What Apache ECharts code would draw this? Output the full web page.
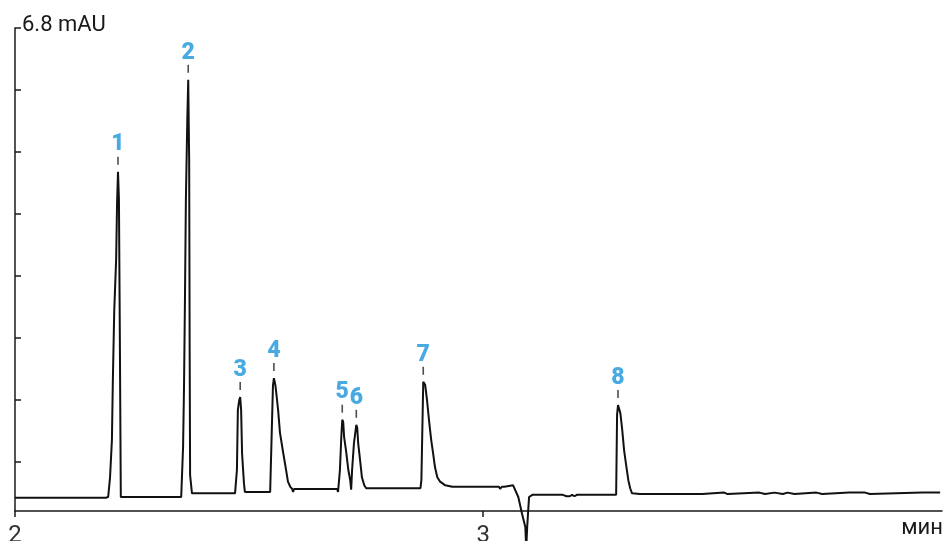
<!DOCTYPE html>
<html>
<head>
<meta charset="utf-8">
<script src="https://cdn.jsdelivr.net/npm/echarts@6/dist/echarts.min.js"></script>
<style>
html,body{margin:0;padding:0;background:#fff;}
#chart{width:947px;height:541px;}
</style>
</head>
<body>
<div id="chart"></div>
<script>
// Retention time (min), detector signal (mAU)
var trace = [
  [2.000,0.36],[2.026,0.36],[2.028,0.38],[2.030,0.36],[2.069,0.36],[2.071,0.38],[2.073,0.36],[2.194,0.36],
  [2.199,0.37],[2.203,0.64],[2.207,1.15],[2.209,1.97],[2.212,2.93],[2.216,3.62],[2.218,4.40],[2.220,4.83],
  [2.222,4.45],[2.224,2.50],[2.226,0.37],[2.355,0.37],
  [2.357,0.38],[2.359,1.06],[2.361,1.88],[2.363,3.07],[2.365,4.44],[2.368,5.54],[2.370,6.09],[2.372,5.00],
  [2.373,2.50],[2.374,0.67],[2.378,0.42],[2.470,0.42],
  [2.474,0.74],[2.476,1.56],[2.479,1.70],[2.481,1.74],[2.483,1.56],[2.485,0.97],[2.489,0.56],[2.491,0.44],
  [2.545,0.44],[2.551,1.90],[2.553,2.00],[2.556,1.91],[2.558,1.80],[2.562,1.56],[2.566,1.25],[2.573,0.97],
  [2.579,0.74],[2.583,0.58],[2.588,0.51],[2.592,0.48],[2.594,0.44],[2.596,0.48],
  [2.688,0.48],[2.690,0.44],[2.694,0.74],[2.697,1.20],[2.699,1.43],[2.701,1.40],[2.703,1.19],[2.707,1.01],
  [2.712,0.74],[2.716,0.60],[2.718,0.47],
  [2.720,0.74],[2.724,1.11],[2.729,1.36],[2.731,1.32],[2.733,1.11],[2.737,0.88],[2.741,0.64],[2.746,0.53],
  [2.750,0.49],[2.853,0.49],[2.855,0.51],[2.857,0.49],[2.866,0.49],
  [2.868,0.60],[2.872,1.95],[2.874,1.93],[2.876,1.91],[2.880,1.70],[2.885,1.38],[2.889,1.15],[2.893,0.97],
  [2.897,0.78],[2.902,0.64],[2.908,0.58],[2.919,0.53],[2.934,0.51],
  [3.034,0.51],[3.036,0.48],[3.040,0.51],[3.045,0.51],[3.048,0.53],[3.064,0.53],[3.068,0.52],
  [3.075,0.37],[3.083,0.14],[3.090,-0.04],[3.092,-0.33],[3.094,-0.04],[3.098,0.37],[3.105,0.40],
  [3.170,0.40],[3.172,0.38],[3.178,0.38],[3.180,0.40],[3.185,0.38],[3.190,0.40],[3.195,0.38],[3.200,0.40],
  [3.203,0.38],[3.207,0.40],[3.284,0.40],
  [3.286,1.50],[3.288,1.63],[3.293,1.52],[3.297,1.29],[3.301,1.01],[3.306,0.78],[3.310,0.60],[3.314,0.49],
  [3.318,0.42],[3.335,0.41],[3.468,0.41],[3.470,0.43],[3.515,0.43],[3.517,0.41],[3.522,0.41],[3.524,0.43],
  [3.590,0.43],[3.592,0.41],[3.602,0.41],[3.604,0.43],[3.622,0.43],[3.625,0.41],[3.640,0.41],[3.643,0.43],
  [3.650,0.43],[3.652,0.41],[3.665,0.41],[3.667,0.43],[3.712,0.43],[3.714,0.41],[3.724,0.41],[3.726,0.43],
  [3.782,0.43],[3.784,0.41],[3.786,0.43],[3.816,0.43],[3.818,0.41],[3.826,0.41],[3.828,0.43],
  [3.938,0.43],[3.940,0.41],[3.942,0.43],[3.976,0.43]
];

var peakNames   = ['1','2','3','4','5','6','7','8'];
var peakTimes   = [2.220, 2.370, 2.481, 2.553, 2.699, 2.729, 2.872, 3.288];
var peakHeights = [4.83, 6.09, 1.74, 2.00, 1.43, 1.36, 1.95, 1.63];

var xTicks = [2, 3];
var yTicks = [0.85, 1.70, 2.55, 3.40, 4.25, 5.10, 5.95, 6.80];
var yTopLabel = '6.8 mAU';
var xUnit = 'мин';

var peakData = peakTimes.map(function (t, i) {
  return { value: [t, peakHeights[i]], name: peakNames[i] };
});

var chart = echarts.init(document.getElementById('chart'), null, { renderer: 'canvas' });
chart.setOption({
  animation: false,
  grid: { left: 15, right: 5, top: 28, bottom: 30, containLabel: false, outerBoundsMode: 'none' },
  xAxis: {
    type: 'value', min: 2, max: 3.98, interval: 1,
    axisLine: { show: true, lineStyle: { color: '#1a1a1a', width: 1.5 } },
    axisTick: { show: true, length: 6, lineStyle: { color: '#1a1a1a', width: 1.5 } },
    axisLabel: {
      color: '#333', fontSize: 24, fontFamily: 'Roboto', margin: 13,
      showMaxLabel: false,
      formatter: function (v) { return xTicks.indexOf(v) >= 0 ? String(v) : ''; }
    },
    splitLine: { show: false }
  },
  yAxis: {
    type: 'value', min: 0.178, max: 6.8,
    axisLine: { show: true, lineStyle: { color: '#1a1a1a', width: 1.5 } },
    axisTick: { show: true, inside: true, length: 6, customValues: yTicks,
      lineStyle: { color: '#1a1a1a', width: 1.5 } },
    axisLabel: { show: false },
    splitLine: { show: false }
  },
  graphic: [
    { type: 'text', left: 22, top: 14,
      style: { text: yTopLabel, fill: '#1a1a1a', font: '22px Roboto' } },
    { type: 'text', right: 4, top: 517,
      style: { text: xUnit, fill: '#1a1a1a', font: '22px Roboto' } }
  ],
  series: [
    {
      type: 'line', data: trace, showSymbol: false, symbol: 'none', clip: false,
      lineStyle: { color: '#111', width: 2 }, z: 2
    },
    {
      type: 'scatter', data: peakData, symbol: 'rect', symbolSize: [1.6, 8],
      symbolOffset: [0, -11], itemStyle: { color: '#222' }, z: 3,
      label: {
        show: true, position: 'inside', offset: [0, -16],
        formatter: '{b}', color: '#1A95D8', fontSize: 23, fontWeight: 900, fontFamily: 'Roboto'
      }
    }
  ]
});
</script>
</body>
</html>
